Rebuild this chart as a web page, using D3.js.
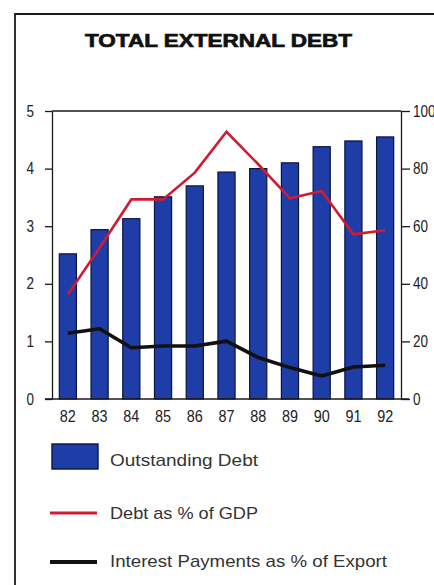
<!DOCTYPE html>
<html>
<head>
<meta charset="utf-8">
<script src="https://cdn.jsdelivr.net/npm/d3@7"></script>
<style>
  html, body { margin: 0; padding: 0; background: #fff; }
  svg { display: block; }
  text { font-family: "Liberation Sans", Arial, sans-serif; }
</style>
</head>
<body>
<svg id="chart" width="434" height="585"></svg>
<script>
const years = ["82","83","84","85","86","87","88","89","90","91","92"];
const outstandingDebt = [2.52, 2.94, 3.13, 3.51, 3.70, 3.94, 4.00, 4.10, 4.38, 4.48, 4.55];
const debtPctGDP = [36.3, 52.5, 69.3, 69.3, 78.6, 92.8, 81.5, 69.7, 72.2, 57.2, 58.6];
const interestPctExport = [22.8, 24.4, 17.8, 18.4, 18.4, 20.1, 14.4, 10.9, 8.0, 11.1, 11.7];
const leftTicks = [0, 1, 2, 3, 4, 5];
const rightTicks = [0, 20, 40, 60, 80, 100];
const title = "TOTAL EXTERNAL DEBT";
const legendLabels = ["Outstanding Debt", "Debt as % of GDP", "Interest Payments as % of Export"];

const svg = d3.select("#chart");
const BLUE = "#1f3da6", RED = "#cf1b33", INK = "#1a1a1a";

// frame
svg.append("path").attr("d", "M15,585 L15,14 L440,14")
  .attr("fill", "none").attr("stroke", INK).attr("stroke-width", 1.8);

// title
svg.append("text").attr("x", 85).attr("y", 46.5)
  .attr("textLength", 267).attr("lengthAdjust", "spacingAndGlyphs")
  .attr("font-size", 18).attr("font-weight", 900).attr("fill", "#111")
  .attr("stroke", "#111").attr("stroke-width", 0.7)
  .style("font-family", "'Liberation Sans', Arial, sans-serif")
  .text(title);

const x = d3.scaleBand().domain(years).range([52, 401]).paddingInner(0.46).paddingOuter(0.23);
const yL = d3.scaleLinear().domain([0, 5]).range([399, 111]);
const yR = d3.scaleLinear().domain([0, 100]).range([399, 111]);

// bars
svg.append("g").selectAll("rect").data(years).join("rect")
  .attr("x", d => x(d))
  .attr("y", (d, i) => yL(outstandingDebt[i]))
  .attr("width", x.bandwidth())
  .attr("height", (d, i) => yL(0) - yL(outstandingDebt[i]))
  .attr("fill", BLUE).attr("stroke", "#0b1440").attr("stroke-width", 1.2);

// top frame line of plot
svg.append("line").attr("x1", 52).attr("x2", 401).attr("y1", yL(5)).attr("y2", yL(5))
  .attr("stroke", INK).attr("stroke-width", 1.3);

// left axis
const gL = svg.append("g").attr("transform", "translate(52,0)")
  .call(d3.axisLeft(yL).tickValues(leftTicks).tickSize(7).tickSizeOuter(0).tickPadding(11).tickFormat(d3.format("d")));
// right axis
const gR = svg.append("g").attr("transform", "translate(401,0)")
  .call(d3.axisRight(yR).tickValues(rightTicks).tickSize(9).tickSizeOuter(0).tickPadding(3).tickFormat(d3.format("d")));
[gL, gR].forEach(g => {
  g.select(".domain").attr("stroke", INK).attr("stroke-width", 1.3);
  g.selectAll(".tick line").attr("stroke", INK).attr("stroke-width", 1.3);
  g.selectAll(".tick text").attr("font-size", 16).attr("fill", "#222")
    .attr("textLength", d => String(d).length * 7.5).attr("lengthAdjust", "spacingAndGlyphs")
    .style("font-family", "'Liberation Sans', Arial, sans-serif");
});

// bottom axis
const gB = svg.append("g").attr("transform", `translate(0,${yL(0)})`)
  .call(d3.axisBottom(x).tickSize(0).tickSizeOuter(0).tickPadding(12));
gB.select(".domain").remove();
gB.selectAll(".tick text").attr("font-size", 16).attr("fill", "#222")
  .attr("textLength", 16).attr("lengthAdjust", "spacingAndGlyphs")
  .style("font-family", "'Liberation Sans', Arial, sans-serif");
svg.append("line").attr("x1", 45).attr("x2", 409).attr("y1", yL(0)).attr("y2", yL(0))
  .attr("stroke", INK).attr("stroke-width", 1.5);

// lines
const cx = d => x(d) + x.bandwidth() / 2;
svg.append("path").datum(years)
  .attr("fill", "none").attr("stroke", RED).attr("stroke-width", 2.6).attr("stroke-linejoin", "miter")
  .attr("d", d3.line().x(d => cx(d)).y((d, i) => yR(debtPctGDP[i])));
svg.append("path").datum(years)
  .attr("fill", "none").attr("stroke", "#111").attr("stroke-width", 3.6).attr("stroke-linejoin", "round")
  .attr("d", d3.line().x(d => cx(d)).y((d, i) => yR(interestPctExport[i])));

// legend
const lg = svg.append("g");
lg.append("rect").attr("x", 52).attr("y", 444).attr("width", 46).attr("height", 25)
  .attr("fill", BLUE).attr("stroke", "#0b1440").attr("stroke-width", 1.4);
lg.append("line").attr("x1", 50).attr("x2", 97).attr("y1", 513).attr("y2", 513)
  .attr("stroke", RED).attr("stroke-width", 2.8);
lg.append("line").attr("x1", 50).attr("x2", 97).attr("y1", 562).attr("y2", 562)
  .attr("stroke", "#111").attr("stroke-width", 4);
const lgY = [466, 518.5, 567];
const lgW = [148, 148, 277];
lg.selectAll("text.lbl").data(legendLabels).join("text").attr("class", "lbl")
  .attr("x", 110).attr("y", (d, i) => lgY[i])
  .attr("textLength", (d, i) => lgW[i]).attr("lengthAdjust", "spacingAndGlyphs")
  .attr("font-size", 17).attr("fill", "#333")
  .text(d => d);
</script>
</body>
</html>
